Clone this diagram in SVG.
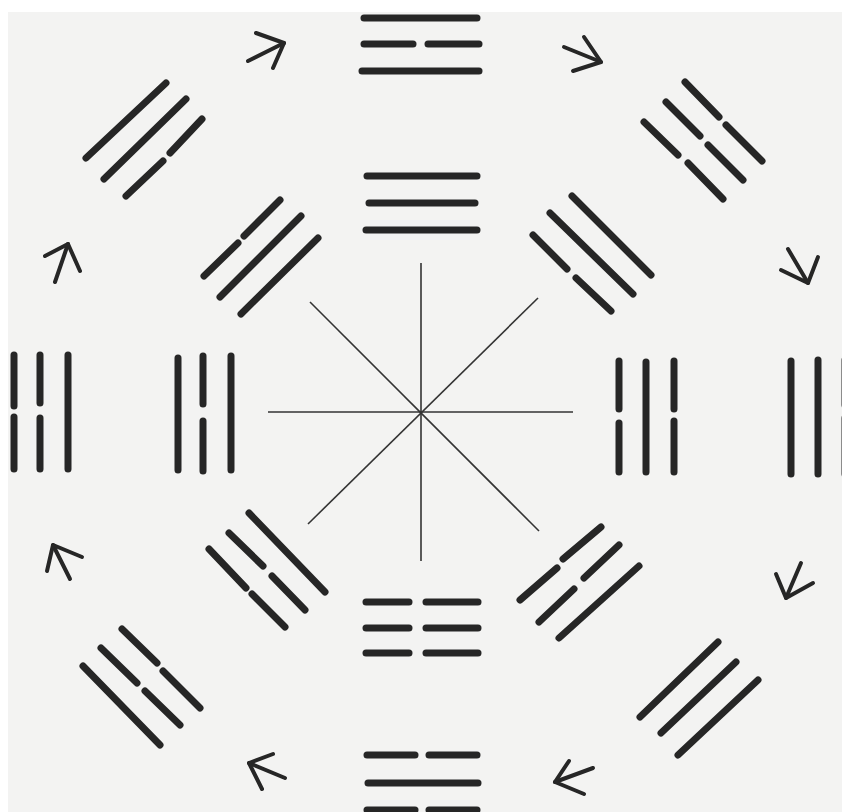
<svg xmlns="http://www.w3.org/2000/svg" width="842" height="812" viewBox="0 0 842 812">
<style>
.bar{stroke:#262626;stroke-width:7;stroke-linecap:round;fill:none}
.arr{stroke:#262626;stroke-width:4;stroke-linecap:round;stroke-linejoin:round;fill:none}
.ray{stroke:#333;stroke-width:1.6;fill:none}
</style>
<rect x="0" y="0" width="842" height="812" fill="#ffffff"/>
<rect x="8" y="12" width="834" height="800" fill="#f3f3f2"/>

<g id="center">
<line class="ray" x1="421" y1="263" x2="421" y2="561"/>
<line class="ray" x1="268" y1="412" x2="573" y2="412"/>
<line class="ray" x1="310" y1="302" x2="539" y2="531"/>
<line class="ray" x1="538" y1="298" x2="308" y2="524"/>
</g>

<g id="outer-top">
<line class="bar" x1="364" y1="18" x2="477" y2="18"/>
<line class="bar" x1="364" y1="44" x2="413" y2="44"/>
<line class="bar" x1="428" y1="44" x2="479" y2="44"/>
<line class="bar" x1="362" y1="71" x2="479" y2="71"/>
</g>
<g id="inner-top">
<line class="bar" x1="367" y1="176" x2="477" y2="176"/>
<line class="bar" x1="369" y1="203" x2="475" y2="203"/>
<line class="bar" x1="366" y1="230" x2="477" y2="230"/>
</g>
<g id="inner-bottom">
<line class="bar" x1="366" y1="602" x2="409" y2="602"/>
<line class="bar" x1="426" y1="602" x2="478" y2="602"/>
<line class="bar" x1="366" y1="628" x2="409" y2="628"/>
<line class="bar" x1="426" y1="628" x2="478" y2="628"/>
<line class="bar" x1="366" y1="653" x2="409" y2="653"/>
<line class="bar" x1="426" y1="653" x2="478" y2="653"/>
</g>
<g id="outer-bottom">
<line class="bar" x1="367" y1="755" x2="415" y2="755"/>
<line class="bar" x1="429" y1="755" x2="477" y2="755"/>
<line class="bar" x1="368" y1="783" x2="478" y2="783"/>
<line class="bar" x1="367" y1="810" x2="415" y2="810"/>
<line class="bar" x1="429" y1="810" x2="477" y2="810"/>
</g>
<g id="outer-left">
<line class="bar" x1="14" y1="355" x2="14" y2="406"/>
<line class="bar" x1="14" y1="417" x2="14" y2="469"/>
<line class="bar" x1="40" y1="355" x2="40" y2="403"/>
<line class="bar" x1="40" y1="418" x2="40" y2="469"/>
<line class="bar" x1="68" y1="355" x2="68" y2="469"/>
</g>
<g id="inner-left">
<line class="bar" x1="178" y1="358" x2="178" y2="470"/>
<line class="bar" x1="203" y1="356" x2="203" y2="404"/>
<line class="bar" x1="203" y1="421" x2="203" y2="471"/>
<line class="bar" x1="231" y1="356" x2="231" y2="470"/>
</g>
<g id="inner-right">
<line class="bar" x1="619" y1="361" x2="619" y2="409"/>
<line class="bar" x1="619" y1="423" x2="619" y2="472"/>
<line class="bar" x1="646" y1="362" x2="646" y2="472"/>
<line class="bar" x1="674" y1="361" x2="674" y2="409"/>
<line class="bar" x1="674" y1="421" x2="674" y2="472"/>
</g>
<g id="outer-right">
<line class="bar" x1="791" y1="361" x2="791" y2="474"/>
<line class="bar" x1="818" y1="360" x2="818" y2="474"/>
<line class="bar" x1="845" y1="360" x2="845" y2="405"/>
<line class="bar" x1="845" y1="418" x2="845" y2="474"/>
</g>
<g id="outer-upper-left">
<line class="bar" x1="86" y1="158" x2="166" y2="83"/>
<line class="bar" x1="104" y1="179" x2="186" y2="99"/>
<line class="bar" x1="126" y1="196" x2="163" y2="161"/>
<line class="bar" x1="170" y1="153" x2="202" y2="119"/>
</g>
<g id="inner-upper-left">
<line class="bar" x1="204" y1="276" x2="238" y2="243"/>
<line class="bar" x1="244" y1="236" x2="280" y2="200"/>
<line class="bar" x1="220" y1="297" x2="301" y2="216"/>
<line class="bar" x1="241" y1="314" x2="318" y2="238"/>
</g>
<g id="outer-upper-right">
<line class="bar" x1="685" y1="82" x2="719" y2="117"/>
<line class="bar" x1="726" y1="125" x2="762" y2="161"/>
<line class="bar" x1="666" y1="102" x2="700" y2="136"/>
<line class="bar" x1="708" y1="145" x2="743" y2="180"/>
<line class="bar" x1="644" y1="122" x2="678" y2="155"/>
<line class="bar" x1="688" y1="163" x2="723" y2="199"/>
</g>
<g id="inner-upper-right">
<line class="bar" x1="572" y1="196" x2="651" y2="275"/>
<line class="bar" x1="550" y1="213" x2="633" y2="294"/>
<line class="bar" x1="533" y1="235" x2="567" y2="269"/>
<line class="bar" x1="576" y1="278" x2="611" y2="311"/>
</g>
<g id="inner-lower-left">
<line class="bar" x1="209" y1="549" x2="246" y2="588"/>
<line class="bar" x1="252" y1="594" x2="285" y2="627"/>
<line class="bar" x1="229" y1="533" x2="263" y2="566"/>
<line class="bar" x1="272" y1="576" x2="305" y2="610"/>
<line class="bar" x1="249" y1="513" x2="325" y2="592"/>
</g>
<g id="outer-lower-left">
<line class="bar" x1="83" y1="666" x2="160" y2="745"/>
<line class="bar" x1="101" y1="648" x2="137" y2="683"/>
<line class="bar" x1="145" y1="691" x2="180" y2="725"/>
<line class="bar" x1="122" y1="629" x2="157" y2="663"/>
<line class="bar" x1="163" y1="671" x2="200" y2="708"/>
</g>
<g id="inner-lower-right">
<line class="bar" x1="559" y1="638" x2="639" y2="566"/>
<line class="bar" x1="539" y1="622" x2="574" y2="589"/>
<line class="bar" x1="584" y1="578" x2="619" y2="545"/>
<line class="bar" x1="520" y1="600" x2="557" y2="568"/>
<line class="bar" x1="563" y1="559" x2="601" y2="527"/>
</g>
<g id="outer-lower-right">
<line class="bar" x1="678" y1="755" x2="758" y2="680"/>
<line class="bar" x1="661" y1="733" x2="736" y2="662"/>
<line class="bar" x1="640" y1="717" x2="718" y2="642"/>
</g>

<g id="arrows">
<polyline class="arr" points="248,61 284,43"/>
<polyline class="arr" points="256,33 284,43 273,68"/>
<polyline class="arr" points="564,47 601,62"/>
<polyline class="arr" points="584,37 601,62 573,71"/>
<polyline class="arr" points="788,249 808,283"/>
<polyline class="arr" points="781,270 808,283 818,257"/>
<polyline class="arr" points="801,563 786,598"/>
<polyline class="arr" points="776,574 786,598 813,583"/>
<polyline class="arr" points="593,768 555,782"/>
<polyline class="arr" points="569,761 555,782 584,794"/>
<polyline class="arr" points="285,778 249,763"/>
<polyline class="arr" points="273,754 249,763 262,789"/>
<polyline class="arr" points="70,579 53,545"/>
<polyline class="arr" points="47,571 53,545 82,557"/>
<polyline class="arr" points="55,282 68,244"/>
<polyline class="arr" points="45,256 68,244 80,271"/>
</g>
</svg>
